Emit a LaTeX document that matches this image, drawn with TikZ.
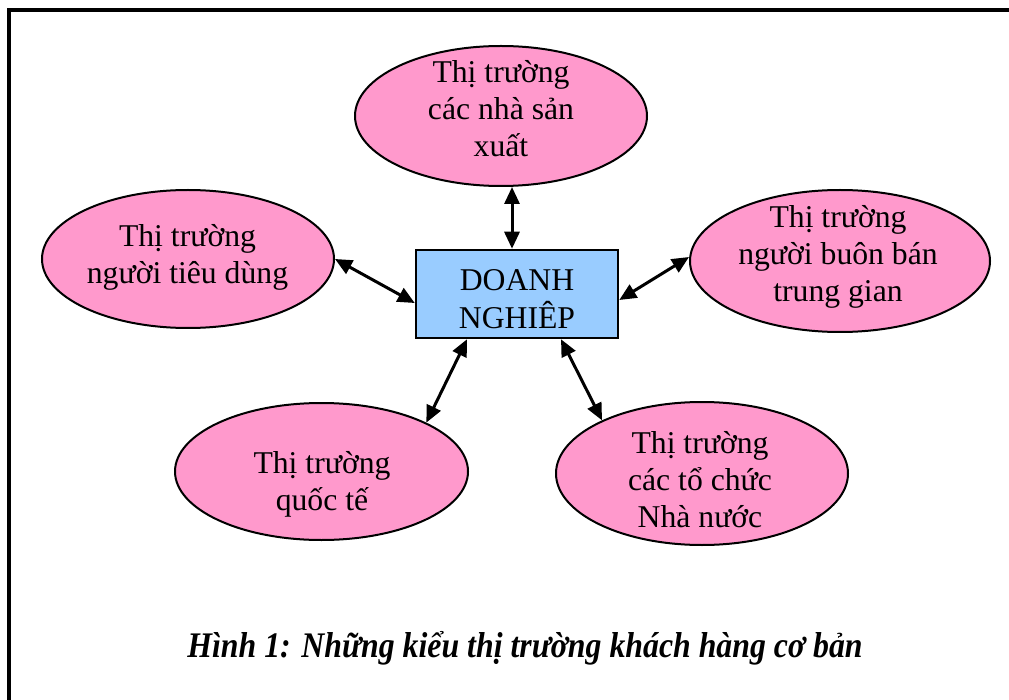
\documentclass[tikz,border=0pt]{standalone}
\usepackage{fontspec}
\setmainfont{Liberation Serif}
\usetikzlibrary{arrows.meta,shapes.geometric}
\definecolor{pinkfill}{HTML}{FF99CC}
\definecolor{bluefill}{HTML}{99CCFF}
\tikzset{
  market/.style={ellipse, draw=black, line width=2pt, fill=pinkfill, inner sep=0pt},
  marktext/.style={inner sep=0pt, align=center, font=\fontsize{31.7}{37}\selectfont},
  bizbox/.style={rectangle, draw=black, line width=2.5pt, fill=bluefill, inner sep=0pt,
    minimum width=202pt, minimum height=88pt},
  biztext/.style={inner sep=0pt, align=center, font=\fontsize{31.7}{38}\selectfont},
  link/.style={line width=3pt, {Triangle[length=17pt,width=15pt]}-{Triangle[length=17pt,width=15pt]}},
  caption/.style={font=\fontsize{36}{40}\selectfont\bfseries\itshape}
}
\begin{document}
\begin{tikzpicture}[x=1pt,y=-1pt]
\useasboundingbox (0,0) rectangle (1009,700);
\clip (0,0) rectangle (1009,700);
\draw[line width=4pt] (9,10) rectangle (1040,740);

\node[market, minimum width=292pt, minimum height=140pt] (top) at (501,116) {};
\node[market, minimum width=292pt, minimum height=138pt] (le) at (188,259) {};
\node[market, minimum width=300pt, minimum height=142pt] (ri) at (840,261) {};
\node[market, minimum width=293pt, minimum height=137pt] (bl) at (321.5,471.5) {};
\node[market, minimum width=292pt, minimum height=143pt] (br) at (702,473.5) {};

\node[marktext] (toptxt) at (501,109) {Thị trường\\các nhà sản\\xuất};
\node[marktext] (letxt) at (187.5,257.5) {Thị trường\\người tiêu dùng};
\node[marktext] (ritxt) at (838,256.5) {Thị trường\\người buôn bán\\trung gian};
\node[marktext] (bltxt) at (322,484.5) {Thị trường\\quốc tế};
\node[marktext] (brtxt) at (700,480) {Thị trường\\các tổ chức\\Nhà nước};

\node[bizbox] (biz) at (517,294) {};
\node[biztext] (biztxt) at (517,299.5) {DOANH\\NGHIÊP};

\draw[link] ([xshift=11pt]top.south) -- ([xshift=-5pt]biz.north);
\draw[link] (le.east) -- ([yshift=-9pt]biz.west);
\draw[link] ([yshift=-6pt]biz.east) -- ([yshift=4pt]ri.west);
\draw[link] ([xshift=-50pt]biz.south) -- (bl.25.5);
\draw[link] ([xshift=44pt]biz.south) -- (br.152);

\node[caption, xscale=0.884, transform shape] (cap) at (525,648) {Hình 1: Những kiểu thị trường khách hàng cơ bản};
\end{tikzpicture}
\end{document}
